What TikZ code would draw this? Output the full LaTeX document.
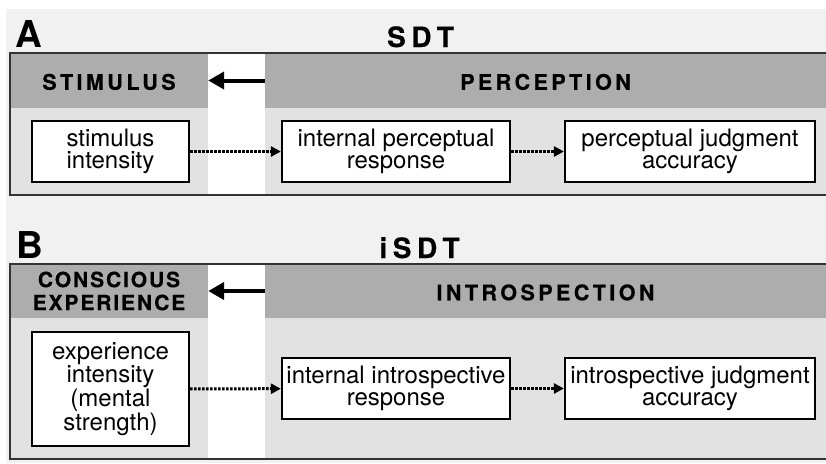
\documentclass[tikz,border=0pt]{standalone}
\usepackage{fontspec}
\setmainfont{TeX Gyre Heros}
\newfontfamily\hdrfont[LetterSpace=16, FakeBold=0.4]{TeX Gyre Heros}
\newfontfamily\hdrtight[LetterSpace=9, FakeBold=0.4]{TeX Gyre Heros}
\newfontfamily\titlefont[LetterSpace=20, FakeBold=0.4]{TeX Gyre Heros}
\usetikzlibrary{arrows.meta}
\definecolor{pagegray}{HTML}{F1F1F1}
\definecolor{bandgray}{HTML}{ADADAD}
\definecolor{bodygray}{HTML}{E2E2E2}
\definecolor{framegray}{HTML}{333333}
\tikzset{
  band/.style={fill=bandgray, inner sep=0pt, align=center, font=\hdrfont\bfseries\fontsize{21.5}{23}\selectfont},
  bandone/.style={band, text height=18.5pt, text depth=0pt},
  paneltitle/.style={anchor=base, inner sep=0pt, font=\titlefont\bfseries\fontsize{28}{28}\selectfont},
  panelletter/.style={anchor=base west, inner sep=0pt, font=\bfseries\fontsize{37}{37}\selectfont},
  stagebox/.style={draw=black, line width=2.2pt, fill=white, inner sep=0pt, align=center, minimum height=61pt, font=\fontsize{24}{21.7}\selectfont},
  flow/.style={line width=3pt, dash pattern=on 2.4pt off 1.6pt, -{Triangle[length=10pt,width=10pt]}},
  back/.style={line width=4pt, -{Triangle[length=16pt,width=17pt]}},
  panelframe/.style={draw=framegray, line width=2.5pt}
}
\begin{document}
\begin{tikzpicture}[x=1pt,y=1pt]
\useasboundingbox (0,0) rectangle (826,-463);
\fill[pagegray] (6,-9) rectangle (826,-463);
% panel A
\begin{scope}
  \fill[bodygray] (10,-53) rectangle (208,-195);\fill[white] (208,-53) rectangle (265,-195);\fill[bodygray] (265,-53) rectangle (826,-195);
  \node[bandone, minimum width=198pt, minimum height=55pt] (stimA) at (109,-80.5) {STIMULUS};
  \node[bandone, minimum width=561pt, minimum height=55pt] (percA) at (545.5,-80.5) {PERCEPTION};
  \draw[back] (percA.west) -- (stimA.east);
  \draw[panelframe] (10,-53) rectangle (828,-195);
  \node[panelletter] (labA) at (15,-47) {A};
  \node[paneltitle] (titA) at (420.5,-47) {SDT};
  \node[stagebox, minimum width=157pt] (intA) at (110.5,-151.5) {stimulus\\intensity};
  \node[stagebox, minimum width=228pt] (respA) at (396,-151.5) {internal perceptual\\response};
  \node[stagebox, minimum width=250pt] (judgA) at (690,-151.5) {perceptual judgment\\accuracy};
  \draw[flow] (intA) -- (respA);\draw[flow] (respA) -- (judgA);
\end{scope}
% panel B
\begin{scope}
  \fill[bodygray] (10,-264) rectangle (208,-459);\fill[white] (208,-264) rectangle (265,-459);\fill[bodygray] (265,-264) rectangle (826,-459);
  \node[band, font=\hdrtight\bfseries\fontsize{21}{23}\selectfont, minimum width=198pt, minimum height=54pt] (stimB) at (109,-291) {CONSCIOUS\\EXPERIENCE};
  \node[bandone, minimum width=561pt, minimum height=54pt] (percB) at (545.5,-291) {INTROSPECTION};
  \draw[back] (percB.west) -- (stimB.east);
  \draw[panelframe] (10,-264) rectangle (828,-459);
  \node[panelletter] (labB) at (16,-258) {B};
  \node[paneltitle] (titB) at (419.5,-258) {iSDT};
  \node[stagebox, minimum width=157pt, minimum height=114pt] (intB) at (110.5,-389) {experience\\intensity\\(mental\\strength)};
  \node[stagebox, minimum width=228pt] (respB) at (396,-388.5) {internal introspective\\response};
  \node[stagebox, minimum width=250pt] (judgB) at (690,-388.5) {introspective judgment\\accuracy};
  \draw[flow] (intB) -- (respB);\draw[flow] (respB) -- (judgB);
\end{scope}
\end{tikzpicture}
\end{document}
